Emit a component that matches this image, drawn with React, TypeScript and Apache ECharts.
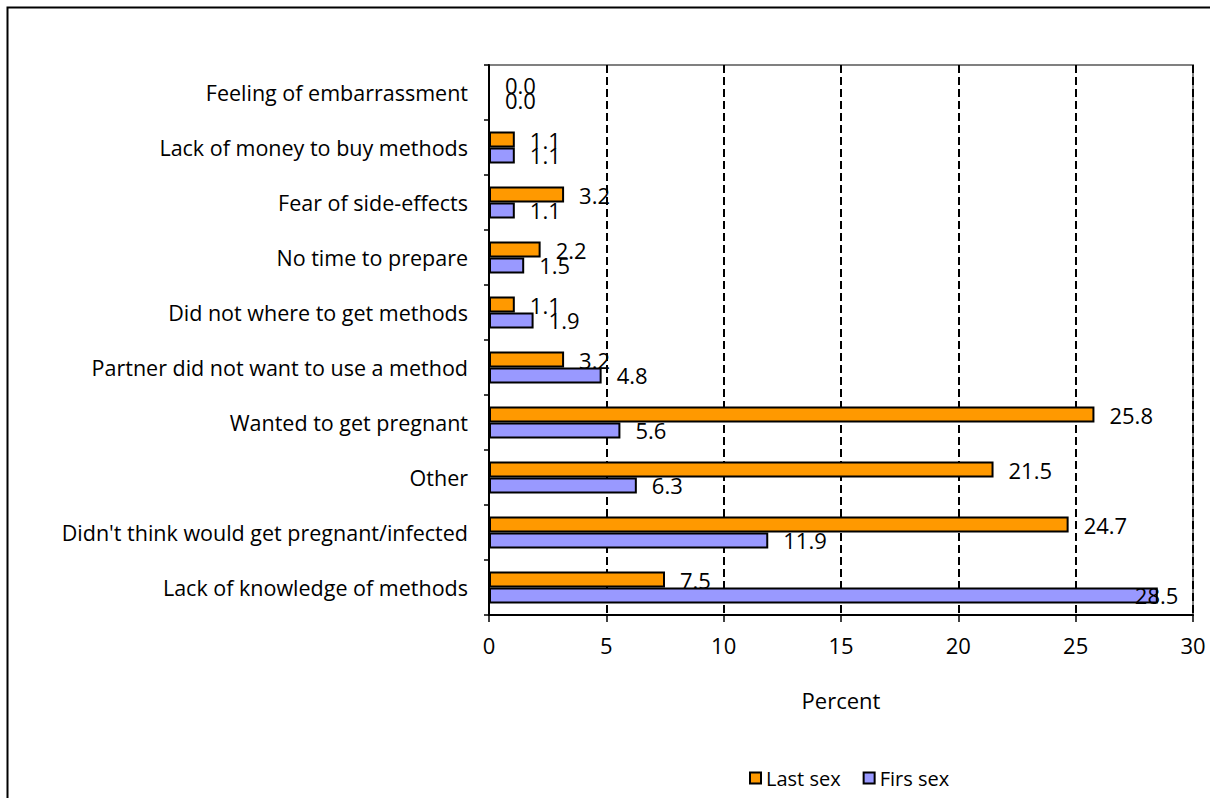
import React, { useEffect, useRef } from "react";
import * as echarts from "echarts";

const categories = [
  "Lack of knowledge of methods",
  "Didn't think would get pregnant/infected",
  "Other",
  "Wanted to get pregnant",
  "Partner did not want to use a method",
  "Did not where to get methods",
  "No time to prepare",
  "Fear of side-effects",
  "Lack of money to buy methods",
  "Feeling of embarrassment",
];
const lastSex = [7.5, 24.7, 21.5, 25.8, 3.2, 1.1, 2.2, 3.2, 1.1, 0.0];
const firstSex = [28.5, 11.9, 6.3, 5.6, 4.8, 1.9, 1.5, 1.1, 1.1, 0.0];
const xTicks = [0, 5, 10, 15, 20, 25, 30];

const FONT = "Open Sans";
const FS = 22;

export default function App() {
  const ref = useRef<HTMLDivElement>(null);
  useEffect(() => {
    if (!ref.current) return;
    const chart = echarts.init(ref.current, null, { renderer: "svg" });
    const labelBase = {
      show: true,
      position: "right" as const,
      distance: 15,
      color: "#000",
      fontFamily: FONT,
      fontSize: FS,
      formatter: (p: any) => Number(p.value).toFixed(1),
    };
    chart.setOption({
      animation: false,
      backgroundColor: "#fff",
      textStyle: { fontFamily: FONT, color: "#000" },
      graphic: [
        {
          type: "rect",
          shape: { x: 7.5, y: 7.5, width: 1300, height: 900 },
          style: { fill: "none", stroke: "#000", lineWidth: 2 },
          silent: true,
          z: 100,
        },
      ],
      legend: {
        data: ["Last sex", "Firs sex"],
        left: 744,
        top: 763,
        icon: "rect",
        itemWidth: 11,
        itemHeight: 11,
        itemGap: 22,
        textStyle: { fontFamily: FONT, fontSize: 20, color: "#000" },
      },
      grid: {
        left: 489,
        right: 17,
        top: 65,
        bottom: 183,
        show: true,
        borderColor: "#808080",
        borderWidth: 2,
        containLabel: false,
      },
      xAxis: {
        type: "value",
        min: xTicks[0],
        max: xTicks[xTicks.length - 1],
        interval: 5,
        name: "Percent",
        nameLocation: "middle",
        nameGap: 74,
        nameTextStyle: { fontFamily: FONT, fontSize: FS, color: "#000" },
        axisLine: { show: true, lineStyle: { color: "#000", width: 2 } },
        axisTick: { show: true, length: 7, lineStyle: { color: "#000", width: 1.5 } },
        axisLabel: { fontFamily: FONT, fontSize: FS, color: "#000", margin: 19 },
        splitLine: {
          show: true,
          lineStyle: { color: "#000", width: 2, type: [8, 4] },
        },
      },
      yAxis: {
        type: "category",
        data: categories,
        axisLine: { show: true, lineStyle: { color: "#000", width: 2 } },
        axisTick: { show: true, length: 5, lineStyle: { color: "#000", width: 1.5 } },
        axisLabel: {
          fontFamily: FONT,
          fontSize: 21.5,
          color: "#000",
          margin: 21,
          padding: [0, 0, 3, 0],
        },
        splitLine: { show: false },
      },
      series: [
        {
          name: "Last sex",
          type: "bar",
          data: lastSex,
          barGap: "0%",
          barCategoryGap: "42%",
          itemStyle: { color: "#FF9900", borderColor: "#000", borderWidth: 2 },
          label: labelBase,
        },
        {
          name: "Firs sex",
          type: "bar",
          data: firstSex.map((v, i) =>
            i === 0 ? { value: v, label: { offset: [-38, 0] } } : v
          ),
          barGap: "0%",
          barCategoryGap: "42%",
          itemStyle: { color: "#9999FF", borderColor: "#000", borderWidth: 2 },
          label: labelBase,
        },
      ],
    });
    return () => chart.dispose();
  }, []);
  return (
    <div
      ref={ref}
      style={{ position: "fixed", left: 0, top: 0, width: 1210, height: 798 }}
    />
  );
}
